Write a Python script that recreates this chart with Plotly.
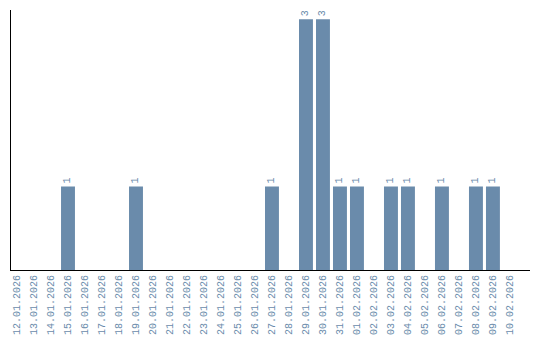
import plotly.graph_objects as go

dates = ["12.01.2026", "13.01.2026", "14.01.2026", "15.01.2026", "16.01.2026", "17.01.2026",
         "18.01.2026", "19.01.2026", "20.01.2026", "21.01.2026", "22.01.2026", "23.01.2026",
         "24.01.2026", "25.01.2026", "26.01.2026", "27.01.2026", "28.01.2026", "29.01.2026",
         "30.01.2026", "31.01.2026", "01.02.2026", "02.02.2026", "03.02.2026", "04.02.2026",
         "05.02.2026", "06.02.2026", "07.02.2026", "08.02.2026", "09.02.2026", "10.02.2026"]
counts = [0, 0, 0, 1, 0, 0, 0, 1, 0, 0, 0, 0, 0, 0, 0, 1, 0, 3, 3, 1, 1, 0, 1, 1, 0, 1, 0, 1, 1, 0]

color = "#6a8bab"
labels = [str(c) if c > 0 else "" for c in counts]

fig = go.Figure(go.Bar(
    x=dates, y=counts, marker_color=color, marker_line_width=0,
    width=0.82, text=labels, textposition="outside", textangle=-90,
    textfont=dict(family="Liberation Mono", size=10, color=color),
    cliponaxis=False,
))
fig.update_layout(
    width=540, height=340,
    margin=dict(l=11, r=10, t=10, b=70),
    plot_bgcolor="white", paper_bgcolor="white",
    showlegend=False,
    xaxis=dict(type="category", range=[-0.353, 30.18], showline=True, linecolor="black",
               linewidth=1, tickangle=-90, showgrid=False, ticks="", automargin=False,
               tickfont=dict(family="Liberation Mono", size=10, color=color)),
    yaxis=dict(range=[0, 3.11], showline=True, linecolor="black", linewidth=1, automargin=False,
               showticklabels=False, showgrid=False, zeroline=False, ticks=""),
)
fig.write_html("out.html")
